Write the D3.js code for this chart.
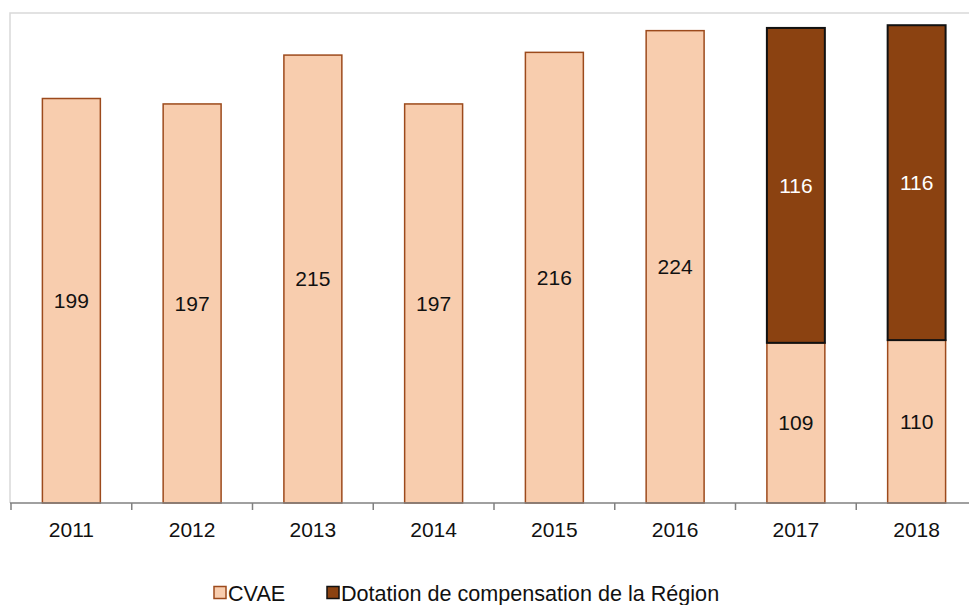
<!DOCTYPE html>
<html>
<head>
<meta charset="utf-8">
<script src="https://cdn.jsdelivr.net/npm/d3@7/dist/d3.min.js"></script>
<style>
  html, body { margin: 0; padding: 0; background: #fff; }
  svg { display: block; font-family: "Liberation Sans", Arial, sans-serif; }
</style>
</head>
<body>
<svg id="chart" width="969" height="605"></svg>
<script>
// Produit fiscal par année (M€)
const years = ["2011", "2012", "2013", "2014", "2015", "2016", "2017", "2018"];
const cvae = [199, 197, 215, 197, 216, 224, 109, 110];
const dotation = [0, 0, 0, 0, 0, 0, 116, 116];
const seriesNames = ["CVAE", "Dotation de compensation de la Région"];
const yDomain = [50, 230.5];

const fills = ["#F8CDAE", "#8B4211"];
const strokes = ["#9C4A1C", "#111111"];
const fontSize = 21;
const legendFontSize = 21.6;

const svg = d3.select("#chart");
const plot = { left: 10, top: 13, bottom: 503, right: 977 };

const x = d3.scaleBand()
  .domain(years)
  .range([plot.left + 1, plot.right])
  .paddingInner(0.52)
  .paddingOuter(0.26);

const y = d3.scaleLinear().domain(yDomain).range([plot.bottom, plot.top]);

// plot area frame
svg.append("path")
  .attr("d", `M${plot.left},${plot.bottom}V${plot.top}H${plot.right + 20}`)
  .attr("fill", "none")
  .attr("stroke", "#d9d9d9")
  .attr("stroke-width", 1.5);

// stacked data
const rows = years.map((yr, i) => ({ year: yr, CVAE: cvae[i], Dotation: dotation[i] }));
const stack = d3.stack().keys(["CVAE", "Dotation"])(rows);

stack.forEach((layer, li) => {
  const g = svg.append("g");
  layer.forEach(d => {
    const v = d[1] - d[0];
    if (v <= 0) return;
    const y0 = li === 0 ? plot.bottom : y(d[0]);
    const y1 = y(d[1]);
    g.append("rect")
      .attr("x", x(d.data.year))
      .attr("y", y1)
      .attr("width", x.bandwidth())
      .attr("height", y0 - y1)
      .attr("fill", fills[li])
      .attr("stroke", strokes[li])
      .attr("stroke-width", li === 0 ? 1.5 : 2);
    g.append("text")
      .attr("x", x(d.data.year) + x.bandwidth() / 2)
      .attr("y", (y0 + y1) / 2)
      .attr("dy", "0.35em")
      .attr("text-anchor", "middle")
      .attr("font-size", fontSize)
      .attr("fill", li === 0 ? "#111" : "#fff")
      .text(v);
  });
});

// x axis
const axisG = svg.append("g").attr("transform", `translate(0,${plot.bottom})`);
axisG.append("line")
  .attr("x1", plot.left).attr("x2", 969)
  .attr("stroke", "#808080").attr("stroke-width", 1.5);
const bounds = years.map(yr => x(yr) - x.step() * x.paddingInner() / 2).concat([plot.right]);
bounds[0] = plot.left + 1;
axisG.selectAll("line.tick").data(bounds).join("line")
  .attr("class", "tick")
  .attr("x1", d => d).attr("x2", d => d)
  .attr("y1", 0).attr("y2", 7)
  .attr("stroke", "#808080").attr("stroke-width", 1.5);
axisG.selectAll("text").data(years).join("text")
  .attr("x", d => x(d) + x.bandwidth() / 2)
  .attr("y", 34)
  .attr("text-anchor", "middle")
  .attr("font-size", fontSize)
  .attr("fill", "#111")
  .text(d => d);

// legend
const legend = svg.append("g").attr("transform", "translate(0,593)");
const legendX = [214, 327];
seriesNames.forEach((name, i) => {
  legend.append("rect")
    .attr("x", legendX[i]).attr("y", -6.5)
    .attr("width", 12).attr("height", 12)
    .attr("fill", fills[i])
    .attr("stroke", strokes[i]).attr("stroke-width", 1.5);
  legend.append("text")
    .attr("x", legendX[i] + 14).attr("y", 0)
    .attr("dy", "0.35em")
    .attr("font-size", legendFontSize)
    .attr("fill", "#111")
    .text(name);
});
</script>
</body>
</html>
